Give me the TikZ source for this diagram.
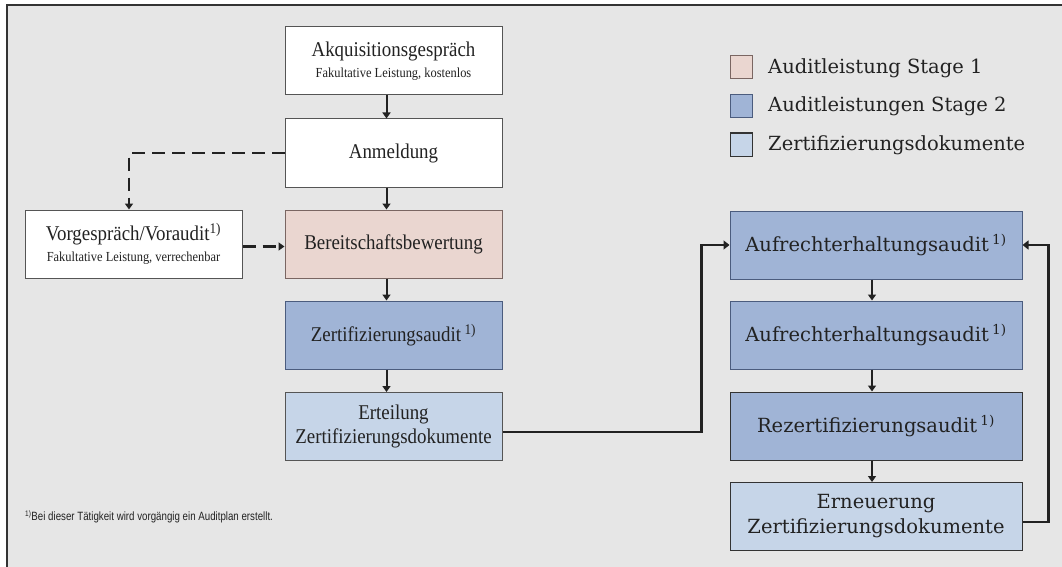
\documentclass[tikz,border=0pt]{standalone}
\usepackage{fontspec}
\setmainfont[FakeStretch=0.9]{Liberation Serif}
\newfontfamily\widefont{DejaVu Serif}
\newfontfamily\footfont[FakeStretch=0.81]{Liberation Sans}
\usetikzlibrary{arrows.meta}
\definecolor{bggray}{HTML}{E6E6E6}
\definecolor{frame}{HTML}{333333}
\definecolor{txt}{HTML}{222222}
\definecolor{pinkfill}{HTML}{EAD6D0}
\definecolor{pinkdraw}{HTML}{7A6662}
\definecolor{bluefill}{HTML}{A0B4D6}
\definecolor{bluedraw}{HTML}{4B5C7E}
\definecolor{lbluefill}{HTML}{C6D5E8}
\definecolor{boxdraw}{HTML}{555555}
\tikzset{
  box/.style={draw=boxdraw, line width=1pt, minimum width=217pt, minimum height=68pt,
    inner sep=0pt, align=center, text=txt, font=\fontsize{21}{24}\selectfont},
  widebox/.style={box, minimum width=292pt, font=\widefont\fontsize{19.5}{25}\selectfont},
  wbox/.style={fill=white},
  s1box/.style={fill=pinkfill, draw=pinkdraw},
  s2box/.style={fill=bluefill, draw=bluedraw},
  docbox/.style={fill=lbluefill},
  arr/.style={line width=2pt, draw=txt, -{Triangle[width=8pt,length=6pt]}},
  dasharr/.style={line width=2.5pt, draw=txt, dash pattern=on 13pt off 7pt, -{Triangle[width=8pt,length=6pt]}},
  looparr/.style={line width=2.5pt, draw=txt, -{Triangle[width=9pt,length=6pt]}},
  legsq/.style={draw=boxdraw, line width=1pt, minimum width=22pt, minimum height=23pt, inner sep=0pt},
  legtxt/.style={anchor=west, inner sep=0pt, text=txt, font=\widefont\fontsize{19.5}{24}\selectfont},
}
\newcommand{\subtxt}[1]{{\fontsize{13.8}{15}\selectfont #1}}
\newcommand{\fn}{\textsuperscript{1)}}
\begin{document}
\begin{tikzpicture}[x=1pt,y=-1pt]
\useasboundingbox (0,0) rectangle (1062,567);
\fill[bggray] (7,5) rectangle (1062,567);
\draw[frame, line width=1.5pt] (7,567) -- (7,5) -- (1062,5);

% middle column
\node[box, wbox] (akq) at (393.5,61) {Akquisitionsgespräch\\[-3pt]\subtxt{Fakultative Leistung, kostenlos}};
\node[box, wbox] (anm) at (393.5,153) {Anmeldung};
\node[box, s1box] (ber) at (393.5,244) {Bereitschaftsbewertung};
\node[box, wbox] (vor) at (133.5,244) {Vorgespräch/Voraudit\fn\\[-3pt]\subtxt{Fakultative Leistung, verrechenbar}};
\node[box, s2box] (zer) at (393.5,335) {Zertifizierungsaudit\,\fn};
\node[box, docbox] (ert) at (393.5,426.5) {Erteilung\\Zertifizierungsdokumente};

% right column
\node[widebox, s2box] (auf1) at (876,245) {Aufrechterhaltungsaudit\,\fn};
\node[widebox, s2box] (auf2) at (876,335) {Aufrechterhaltungsaudit\,\fn};
\node[widebox, s2box, draw=frame] (rez) at (876,426) {Rezertifizierungsaudit\,\fn};
\node[widebox, docbox, draw=frame] (ern) at (876,516.5) {Erneuerung\\Zertifizierungsdokumente};

% legend
\node[legsq, fill=pinkfill, draw=pinkdraw] (l1) at (741,67.5) {};
\node[legsq, fill=bluefill, draw=bluedraw] (l2) at (741,106) {};
\node[legsq, fill=lbluefill, draw=frame] (l3) at (741,144.5) {};
\node[legtxt] (t1) at (768,68) {Auditleistung Stage 1};
\node[legtxt] (t2) at (768,106.5) {Auditleistungen Stage 2};
\node[legtxt] (t3) at (768,145) {Zertifizierungsdokumente};

% footnote
\node[anchor=west, inner sep=0pt, text=txt, font=\footfont\fontsize{12}{13}\selectfont] (fnote) at (25,517) {\textsuperscript{1)}Bei dieser Tätigkeit wird vorgängig ein Auditplan erstellt.};

% connectors middle
\draw[arr] ([xshift=-7pt]akq.south) -- ([xshift=-7pt]anm.north);
\draw[arr] ([xshift=-7pt]anm.south) -- ([xshift=-7pt]ber.north);
\draw[arr] ([xshift=-7pt]ber.south) -- ([xshift=-7pt]zer.north);
\draw[arr] ([xshift=-7pt]zer.south) -- ([xshift=-7pt]ert.north);
\draw[dasharr] (anm.west) -| ([xshift=-4.5pt]vor.north);
\draw[dasharr] ([yshift=-2.5pt]vor.east) -- ([yshift=-2.5pt]ber.west);

% connectors right
\draw[arr] ([xshift=-4pt]auf1.south) -- ([xshift=-4pt]auf2.north);
\draw[arr] ([xshift=-4pt]auf2.south) -- ([xshift=-4pt]rez.north);
\draw[arr] ([xshift=-4pt]rez.south) -- ([xshift=-4pt]ern.north);
\draw[looparr] ([yshift=-5.5pt]ert.east) -- ++(199,0) |- (auf1.west);
\draw[looparr] ([yshift=-5.5pt]ern.east) -- ++(26,0) |- (auf1.east);
\end{tikzpicture}
\end{document}
